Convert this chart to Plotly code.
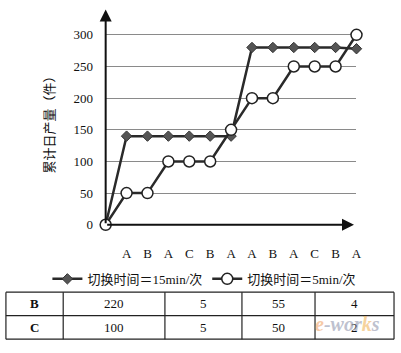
import plotly.graph_objects as go

# ---- data ----
seq_labels = ["A", "B", "A", "C", "B", "A", "A", "B", "A", "C", "B", "A"]
x_pos = list(range(0, 13))
series_15 = [0, 140, 140, 140, 140, 140, 140, 280, 280, 280, 280, 280, 278]
series_5 = [0, 50, 50, 100, 100, 100, 150, 200, 200, 250, 250, 250, 300]
name_15 = "切换时间＝15min/次"
name_5 = "切换时间＝5min/次"
y_ticks = [0, 50, 100, 150, 200, 250, 300]
y_title = "累计日产量（件）"
table_rows = [
    ["<b>B</b>", "220", "5", "55", "4"],
    ["<b>C</b>", "100", "5", "50", "2"],
]
table_col_widths = [58, 103, 78, 74, 80]

W, H = 401, 353
FONT = "Liberation Serif, Times New Roman, Noto Sans CJK SC"

def px_x(p):
    return p / W

def px_y(p):
    return (H - p) / H

fig = go.Figure()

fig.add_trace(go.Scatter(
    x=x_pos, y=series_15, name=name_15, mode="lines+markers",
    line=dict(color="#2a2a2a", width=2.5),
    marker=dict(symbol="diamond", size=8, color="#555555",
                line=dict(color="#333333", width=1)),
    cliponaxis=False,
))
fig.add_trace(go.Scatter(
    x=x_pos, y=series_5, name=name_5, mode="lines+markers",
    line=dict(color="#2a2a2a", width=2.5),
    marker=dict(symbol="circle", size=11, color="white",
                line=dict(color="#222222", width=1.5)),
    cliponaxis=False,
))

fig.update_layout(
    width=W, height=H,
    margin=dict(l=0, r=0, t=0, b=0),
    paper_bgcolor="white", plot_bgcolor="white",
    font=dict(family=FONT, size=13, color="#111111"),
    showlegend=True,
    legend=dict(orientation="h", x=px_x(48), y=px_y(270), xanchor="left", yanchor="top",
                itemwidth=30, font=dict(family=FONT, size=13, color="#111111"),
                bgcolor="rgba(0,0,0,0)", tracegroupgap=0),
    xaxis=dict(
        domain=[px_x(107), px_x(361)], range=[0, 12],
        tickvals=x_pos[1:], ticktext=seq_labels,
        showgrid=False, zeroline=False, showline=False,
        ticks="outside", ticklen=17, tickcolor="rgba(0,0,0,0)",
        tickfont=dict(family=FONT, size=13, color="#111111"),
    ),
    yaxis=dict(
        domain=[px_y(230), px_y(9.7)], range=[0, 340],
        tickvals=y_ticks,
        showgrid=True, gridcolor="#8a8a8a", gridwidth=1,
        zeroline=False, showline=False,
        ticks="outside", ticklen=9, tickcolor="rgba(0,0,0,0)",
        tickfont=dict(family=FONT, size=13, color="#111111"),
    ),
)

# axes with arrows
fig.add_annotation(x=0, y=340, ax=0, ay=0, xref="x", yref="y", axref="x", ayref="y",
                   showarrow=True, arrowhead=2, arrowsize=1.2, arrowwidth=2,
                   arrowcolor="#111111", text="")
fig.add_annotation(x=11.88, y=0, ax=0, ay=0, xref="x", yref="y", axref="x", ayref="y",
                   showarrow=True, arrowhead=2, arrowsize=1.2, arrowwidth=2,
                   arrowcolor="#111111", text="")

# y-axis title
fig.add_annotation(x=px_x(50), y=px_y(124), xref="paper", yref="paper",
                   xanchor="center", yanchor="middle",
                   text=y_title, textangle=-90, showarrow=False,
                   font=dict(family=FONT, size=13, color="#111111"))

# table drawn with shapes + text
tbl_left, tbl_top, row_h = 6, 299, 24
col_edges = [tbl_left]
for w in table_col_widths:
    col_edges.append(col_edges[-1] + w)
n_rows = len(table_rows)
tbl_bottom = tbl_top + n_rows * row_h
for i in range(n_rows + 1):
    yy = tbl_top + i * row_h
    fig.add_shape(type="line", xref="paper", yref="paper",
                  x0=px_x(col_edges[0]), x1=px_x(col_edges[-1]), y0=px_y(yy), y1=px_y(yy),
                  line=dict(color="#222222", width=1.2))
for xx in col_edges:
    fig.add_shape(type="line", xref="paper", yref="paper",
                  x0=px_x(xx), x1=px_x(xx), y0=px_y(tbl_top), y1=px_y(tbl_bottom),
                  line=dict(color="#222222", width=1.2))
for r, row in enumerate(table_rows):
    yc = tbl_top + r * row_h + row_h / 2
    for c, val in enumerate(row):
        xc = (col_edges[c] + col_edges[c + 1]) / 2
        fig.add_annotation(x=px_x(xc), y=px_y(yc), xref="paper", yref="paper",
                           xanchor="center", yanchor="middle", text=val, showarrow=False,
                           font=dict(family=FONT, size=13, color="#111111"))

# watermark
fig.add_annotation(x=px_x(352), y=px_y(332), xref="paper", yref="paper",
                   xanchor="center", yanchor="middle",
                   text="<i><b><span style='color:#f0a060'>e</span>-wor<span style='color:#f0b050'>k</span>s</b></i>",
                   showarrow=False, opacity=0.55,
                   font=dict(family=FONT, size=20, color="#8a90a8"))

fig.write_html("out.html")
